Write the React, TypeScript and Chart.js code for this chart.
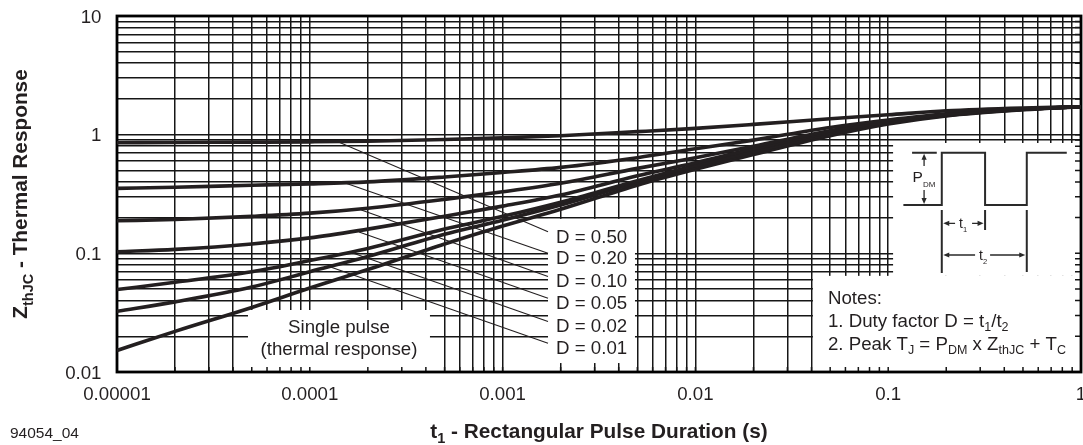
import React, { useEffect, useRef } from 'react';
import { Chart, registerables } from 'chart.js';

Chart.register(...registerables);

// ---- data ----
const pulseDuration = [1e-5, 2e-5, 5e-5, 1e-4, 2e-4, 5e-4, 1e-3, 2e-3, 5e-3, 1e-2, 2e-2, 5e-2, 0.1, 0.2, 0.5, 1];

const zthD050 = [0.855, 0.86, 0.865, 0.87, 0.88, 0.91, 0.94, 0.98, 1.06, 1.13, 1.22, 1.36, 1.47, 1.59, 1.68, 1.72];
const zthD020 = [0.353, 0.36, 0.375, 0.385, 0.4, 0.44, 0.48, 0.53, 0.64, 0.76, 0.9, 1.15, 1.33, 1.5, 1.65, 1.72];
const zthD010 = [0.188, 0.193, 0.205, 0.218, 0.24, 0.285, 0.33, 0.39, 0.52, 0.64, 0.8, 1.08, 1.3, 1.48, 1.64, 1.72];
const zthD005 = [0.103, 0.108, 0.12, 0.135, 0.16, 0.205, 0.25, 0.31, 0.45, 0.58, 0.76, 1.05, 1.28, 1.47, 1.64, 1.72];
const zthD002 = [0.0495, 0.057, 0.07, 0.087, 0.11, 0.16, 0.205, 0.27, 0.41, 0.55, 0.72, 1.02, 1.26, 1.46, 1.64, 1.72];
const zthD001 = [0.0325, 0.039, 0.052, 0.07, 0.094, 0.145, 0.19, 0.255, 0.395, 0.535, 0.7, 1.0, 1.25, 1.45, 1.63, 1.72];
const zthSingle = [0.0152, 0.022, 0.035, 0.051, 0.073, 0.12, 0.17, 0.235, 0.375, 0.51, 0.68, 0.98, 1.23, 1.44, 1.62, 1.72];

const dutyLabels = ['D = 0.50', 'D = 0.20', 'D = 0.10', 'D = 0.05', 'D = 0.02', 'D = 0.01'];
const leaderStartT = [1.4e-4, 1.5e-4, 1.85e-4, 1.8e-4, 1.6e-4, 1.27e-4];
const leaderStartZ = [0.87, 0.395, 0.232, 0.151, 0.103, 0.077];
const leaderEndT = [1.72e-3, 1.72e-3, 1.72e-3, 1.72e-3, 1.72e-3, 1.72e-3];
const leaderEndZ = [0.152, 0.1, 0.0637, 0.0419, 0.0266, 0.0175];

const xTickValues = [1e-5, 1e-4, 1e-3, 1e-2, 0.1, 1];
const xTickLabels = ['0.00001', '0.0001', '0.001', '0.01', '0.1', '1'];
const yTickValues = [0.01, 0.1, 1, 10];
const yTickLabels = ['0.01', '0.1', '1', '10'];

// ---- styling / layout ----
const FONT = '"Liberation Sans", Arial, Helvetica, sans-serif';
const INK = '#231f20';
const GRID = '#161616';
const TXT = 18.7;

const gridValues = (decades: number[], last: number) => {
  const out: number[] = [];
  decades.forEach((d) => {
    for (let m = 1; m <= 9; m++) out.push(+(m * d).toPrecision(3));
  });
  out.push(last);
  return out;
};
const xGrid = gridValues([1e-5, 1e-4, 1e-3, 1e-2, 0.1], 1);
const yGrid = gridValues([0.01, 0.1, 1], 10);

// white label areas that interrupt the grid: [xMin, xMax, yMin, yMax] in data units
const maskBoxes = [
  [4.78e-5, 4.2e-4, 0.01, 0.0333],
  [1.72e-3, 4.86e-3, 0.0119, 0.195],
  [0.0407, 1, 0.01, 0.0646],
  [0.106, 1, 0.0646, 0.851],
];

type Part = [string, number];
function drawRich(
  ctx: CanvasRenderingContext2D,
  parts: Part[],
  x: number,
  y: number,
  align: 'left' | 'center' | 'right',
  size: number,
  subSize: number,
  subDy: number,
  weight = 'normal'
) {
  const f = (s: number) => `${weight} ${s}px ${FONT}`;
  let total = 0;
  const widths = parts.map(([t, sub]) => {
    ctx.font = f(sub ? subSize : size);
    const w = ctx.measureText(t).width;
    total += w;
    return w;
  });
  let cx = align === 'center' ? x - total / 2 : align === 'right' ? x - total : x;
  ctx.textAlign = 'left';
  ctx.textBaseline = 'alphabetic';
  parts.forEach(([t, sub], i) => {
    ctx.font = f(sub ? subSize : size);
    ctx.fillText(t, cx, y + (sub ? subDy : 0));
    cx += widths[i];
  });
}

function arrowHead(ctx: CanvasRenderingContext2D, tx: number, ty: number, dx: number, dy: number) {
  const len = 6;
  const hw = 2.6;
  const px = -dy;
  const py = dx;
  ctx.beginPath();
  ctx.moveTo(tx, ty);
  ctx.lineTo(tx - dx * len + px * hw, ty - dy * len + py * hw);
  ctx.lineTo(tx - dx * len - px * hw, ty - dy * len - py * hw);
  ctx.closePath();
  ctx.fill();
}

const annotPlugin = {
  id: 'annot',
  beforeDatasetsDraw(chart: any) {
    const { ctx, chartArea: ca, scales } = chart;
    const x = scales.x;
    const y = scales.y;
    ctx.save();
    ctx.fillStyle = '#ffffff';
    maskBoxes.forEach(([x0, x1, y0, y1]) => {
      const px0 = x.getPixelForValue(x0);
      const px1 = x.getPixelForValue(x1);
      const py0 = y.getPixelForValue(y1);
      const py1 = y.getPixelForValue(y0);
      ctx.fillRect(px0, py0, px1 - px0, py1 - py0);
    });
    // inward tick stubs on bottom and right edges
    ctx.strokeStyle = GRID;
    ctx.lineWidth = 1.5;
    ctx.beginPath();
    xGrid.forEach((v) => {
      const px = x.getPixelForValue(v);
      ctx.moveTo(px, ca.bottom);
      ctx.lineTo(px, ca.bottom - 5);
    });
    yGrid.forEach((v) => {
      const py = y.getPixelForValue(v);
      ctx.moveTo(ca.right, py);
      ctx.lineTo(ca.right - 6, py);
    });
    ctx.stroke();
    // frame
    ctx.lineWidth = 2.8;
    ctx.strokeStyle = '#000';
    ctx.strokeRect(ca.left, ca.top, ca.right - ca.left, ca.bottom - ca.top);
    ctx.restore();
  },
  afterDatasetsDraw(chart: any) {
    const { ctx, chartArea: ca, scales } = chart;
    const x = scales.x;
    const y = scales.y;
    ctx.save();
    ctx.fillStyle = INK;

    // tick labels
    ctx.font = `${TXT}px ${FONT}`;
    ctx.textBaseline = 'alphabetic';
    ctx.textAlign = 'right';
    yTickValues.forEach((v, i) => {
      ctx.fillText(yTickLabels[i], ca.left - 15.5, y.getPixelForValue(v) + 6.5);
    });
    ctx.textAlign = 'center';
    xTickValues.forEach((v, i) => {
      ctx.fillText(xTickLabels[i], x.getPixelForValue(v), ca.bottom + 28);
    });

    // axis titles
    drawRich(ctx, [['t', 0], ['1', 1], [' - Rectangular Pulse Duration (s)', 0]], (ca.left + ca.right) / 2, ca.bottom + 65.5, 'center', 20.8, 14.5, 5, 'bold');
    ctx.save();
    ctx.translate(26.5, (ca.top + ca.bottom) / 2);
    ctx.rotate(-Math.PI / 2);
    drawRich(ctx, [['Z', 0], ['thJC', 1], [' - Thermal Response', 0]], 0, 0, 'center', 20.8, 14.5, 6, 'bold');
    ctx.restore();

    // figure number
    ctx.font = `15.5px ${FONT}`;
    ctx.textAlign = 'left';
    ctx.fillText('94054_04', 10, ca.bottom + 66);

    // single pulse label
    const spBox = maskBoxes[0];
    const spx = (x.getPixelForValue(spBox[0]) + x.getPixelForValue(spBox[1])) / 2;
    ctx.font = `${TXT}px ${FONT}`;
    ctx.textAlign = 'center';
    ctx.fillText('Single pulse', spx, ca.bottom - 39.5);
    ctx.fillText('(thermal response)', spx, ca.bottom - 17.5);

    // duty labels
    ctx.textAlign = 'left';
    dutyLabels.forEach((lab, i) => {
      const ex = x.getPixelForValue(leaderEndT[i]);
      const ey = y.getPixelForValue(leaderEndZ[i]);
      ctx.fillText(lab, ex + 8, ey + 10.8);
    });

    // notes
    const nx = x.getPixelForValue(maskBoxes[2][0]) + 15;
    drawRich(ctx, [['Notes:', 0]], nx, ca.bottom - 68.5, 'left', TXT, 12.5, 4);
    drawRich(ctx, [['1. Duty factor D = t', 0], ['1', 1], ['/t', 0], ['2', 1]], nx, ca.bottom - 45.5, 'left', TXT, 12.5, 4);
    drawRich(
      ctx,
      [['2. Peak T', 0], ['J', 1], [' = P', 0], ['DM', 1], [' x Z', 0], ['thJC', 1], [' + T', 0], ['C', 1]],
      nx,
      ca.bottom - 22,
      'left',
      TXT,
      12.5,
      4
    );

    // inset pulse diagram
    const ox = x.getPixelForValue(maskBoxes[3][0]);
    const oy = y.getPixelForValue(maskBoxes[3][3]);
    const hi = oy + 9.7;
    const lo = oy + 62;
    const e1 = ox + 48.7;
    const e2 = ox + 92;
    const e3 = ox + 133.7;
    ctx.strokeStyle = '#2a2a2a';
    ctx.fillStyle = '#2a2a2a';
    ctx.lineWidth = 2;
    ctx.beginPath();
    ctx.moveTo(ox + 10.3, lo);
    ctx.lineTo(e1, lo);
    ctx.lineTo(e1, hi);
    ctx.lineTo(e2, hi);
    ctx.lineTo(e2, lo);
    ctx.lineTo(e3, lo);
    ctx.lineTo(e3, hi);
    ctx.lineTo(ox + 173.7, hi);
    ctx.moveTo(ox + 19, hi);
    ctx.lineTo(ox + 43.7, hi);
    // marker verticals
    ctx.moveTo(e1, lo + 5);
    ctx.lineTo(e1, oy + 130);
    ctx.moveTo(e2, lo + 5);
    ctx.lineTo(e2, oy + 87);
    ctx.moveTo(e3, lo + 5);
    ctx.lineTo(e3, oy + 129);
    ctx.stroke();

    ctx.lineWidth = 1.3;
    const ax = ox + 31;
    ctx.beginPath();
    ctx.moveTo(ax, hi + 4);
    ctx.lineTo(ax, oy + 23);
    ctx.moveTo(ax, oy + 47);
    ctx.lineTo(ax, lo - 4);
    const t1y = oy + 80.3;
    ctx.moveTo(e1 + 4, t1y);
    ctx.lineTo(ox + 62, t1y);
    ctx.moveTo(ox + 79, t1y);
    ctx.lineTo(e2 - 4, t1y);
    const t2y = oy + 112;
    ctx.moveTo(e1 + 4, t2y);
    ctx.lineTo(ox + 82, t2y);
    ctx.moveTo(ox + 97, t2y);
    ctx.lineTo(e3 - 4, t2y);
    ctx.stroke();
    arrowHead(ctx, ax, hi + 1, 0, -1);
    arrowHead(ctx, ax, lo - 1, 0, 1);
    arrowHead(ctx, e1 + 1.5, t1y, -1, 0);
    arrowHead(ctx, e2 - 1.5, t1y, 1, 0);
    arrowHead(ctx, e1 + 1.5, t2y, -1, 0);
    arrowHead(ctx, e3 - 1.5, t2y, 1, 0);

    ctx.fillStyle = INK;
    drawRich(ctx, [['P', 0], ['DM', 1]], ox + 19.5, oy + 39, 'left', 15.5, 8, 5);
    drawRich(ctx, [['t', 0], ['1', 1]], ox + 66, t1y + 5, 'left', 14, 7.5, 4);
    drawRich(ctx, [['t', 0], ['2', 1]], ox + 86, t2y + 5, 'left', 14, 7.5, 4);

    ctx.restore();
  },
};

export default function App() {
  const ref = useRef<HTMLCanvasElement>(null);
  useEffect(() => {
    const canvas = ref.current;
    if (!canvas) return;
    const curves = [zthD050, zthD020, zthD010, zthD005, zthD002, zthD001, zthSingle];
    const curveNames = ['D = 0.50', 'D = 0.20', 'D = 0.10', 'D = 0.05', 'D = 0.02', 'D = 0.01', 'Single pulse'];
    const datasets: any[] = [
      ...curves.map((vals, i) => ({
        label: curveNames[i],
        data: pulseDuration.map((t, j) => ({ x: t, y: vals[j] })),
        borderColor: INK,
        borderWidth: 3.6,
        pointRadius: 0,
        fill: false,
        cubicInterpolationMode: 'monotone',
        borderCapStyle: 'butt',
      })),
      ...leaderStartT.map((t, i) => ({
        label: 'leader ' + dutyLabels[i],
        data: [
          { x: t, y: leaderStartZ[i] },
          { x: leaderEndT[i], y: leaderEndZ[i] },
        ],
        borderColor: INK,
        borderWidth: 1.1,
        pointRadius: 0,
        fill: false,
      })),
    ];
    const chart = new Chart(canvas, {
      type: 'line',
      data: { datasets },
      options: {
        animation: false,
        responsive: true,
        maintainAspectRatio: false,
        events: [],
        layout: { padding: { left: 0, right: 2, top: 16, bottom: 0 } },
        plugins: { legend: { display: false }, tooltip: { enabled: false }, title: { display: false } },
        scales: {
          x: {
            type: 'logarithmic',
            position: 'bottom',
            min: 1e-5,
            max: 1,
            afterBuildTicks: (s: any) => {
              s.ticks = xGrid.map((v) => ({ value: v }));
            },
            afterFit: (s: any) => {
              s.height = 73;
            },
            ticks: { display: false },
            grid: { color: GRID, lineWidth: 1.5, drawTicks: false },
            border: { display: false },
          },
          y: {
            type: 'logarithmic',
            position: 'left',
            min: 0.01,
            max: 10,
            afterBuildTicks: (s: any) => {
              s.ticks = yGrid.map((v) => ({ value: v }));
            },
            afterFit: (s: any) => {
              s.width = 117;
            },
            ticks: { display: false },
            grid: { color: GRID, lineWidth: 1.5, drawTicks: false },
            border: { display: false },
          },
        },
      } as any,
      plugins: [annotPlugin as any],
    });
    return () => chart.destroy();
  }, []);
  return (
    <div style={{ position: 'fixed', left: 0, top: 0, width: 1083, height: 445, background: '#fff' }}>
      <canvas ref={ref} />
    </div>
  );
}
